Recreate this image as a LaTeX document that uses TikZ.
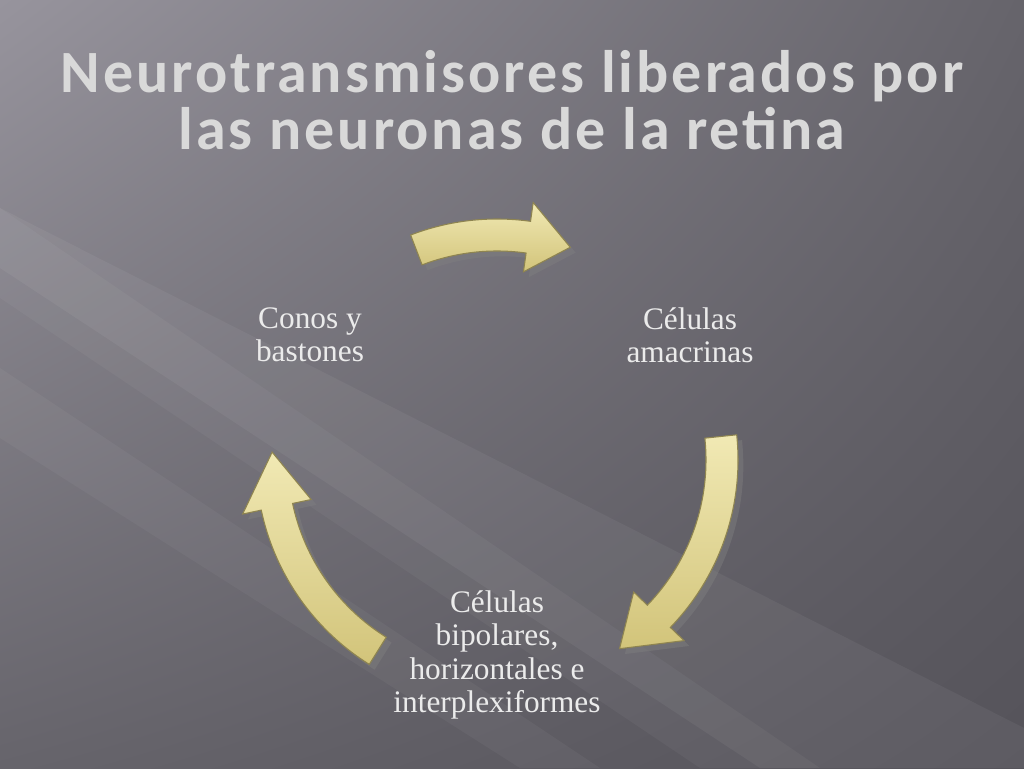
\documentclass[tikz,border=0pt]{standalone}
\usepackage{fontspec}
\setmainfont{Liberation Serif}
\newfontfamily\titlefont[LetterSpace=5]{Carlito}
\usetikzlibrary{shadows,shadings}
\definecolor{bgA}{HTML}{97949D}
\definecolor{bgB}{HTML}{55535A}
\definecolor{bgC}{HTML}{66646B}
\definecolor{arrA}{HTML}{F1E9B4}
\definecolor{arrB}{HTML}{D2C47A}
\definecolor{arrD}{HTML}{8E8450}
\tikzset{
  lbl/.style={align=center,text=white!92!black,font=\fontsize{23.5}{25}\selectfont},
  ttl/.style={align=center,text=white!85!black,font=\titlefont\bfseries\fontsize{45}{43}\selectfont},
  blockarrow/.style={draw=arrD,line width=0.8pt,top color=arrA,bottom color=arrB,
     drop shadow={opacity=0.45,shadow xshift=4pt,shadow yshift=-4pt}}
}
\newcommand{\cyclearrow}[4]{% A B C name
  \path[blockarrow] (#1:209) arc[start angle=#1,end angle=#2,radius=209] -- (#2:190) -- (#3:225) -- (#2:260) -- (#2:241) arc[start angle=#2,end angle=#1,radius=241] -- cycle;
}
\begin{document}
\begin{tikzpicture}[x=0.75pt,y=0.75pt]
\useasboundingbox (0,0) rectangle (1024,768);
\shade[upper left=bgA,lower right=bgB,upper right=bgC,lower left=bgC] (0,0) rectangle (1024,768);
\fill[white,opacity=0.04] (0,560) -- (0,470) -- (700,0) -- (820,0) -- cycle;
\fill[white,opacity=0.05] (0,560) -- (0,500) -- (760,0) -- (1024,0) -- (1024,40) -- cycle;
\fill[white,opacity=0.04] (0,400) -- (0,330) -- (520,0) -- (600,0) -- cycle;
\node[ttl] (title) at (512,668) {Neurotransmisores liberados por\\las neuronas de la retina};
\begin{scope}[shift={(497,308)}]
  \cyclearrow{111}{82}{71}{top}
  \cyclearrow{6}{-44}{-57}{right}
  \cyclearrow{238}{192}{178}{left}
  \coordinate (ctr) at (0,0);
\end{scope}
\node[lbl] (conos) at (310,433) {Conos y\\bastones};
\node[lbl] (amac) at (690,433) {Células\\amacrinas};
\node[lbl] (bip) at (497,113) {Células\\bipolares,\\horizontales e\\interplexiformes};
\end{tikzpicture}
\end{document}
